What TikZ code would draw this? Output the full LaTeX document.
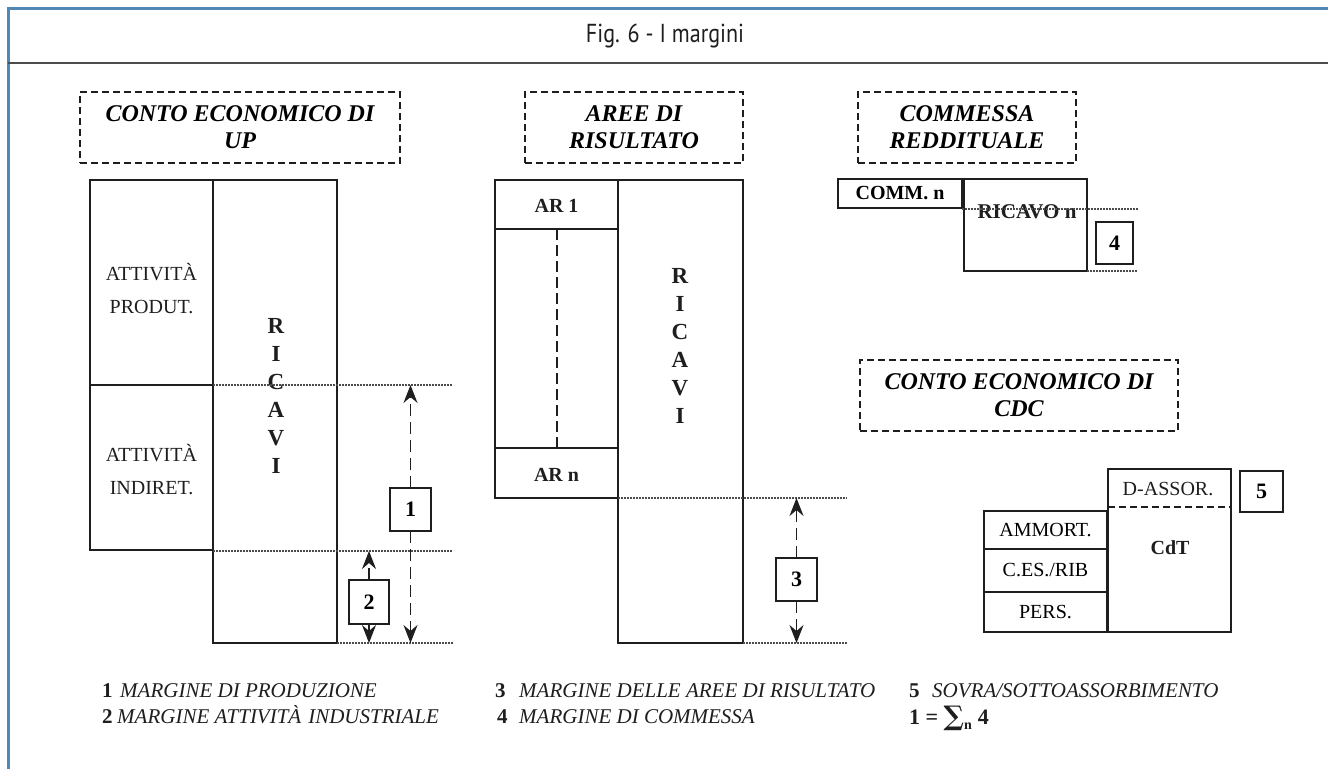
\documentclass[tikz,border=0pt]{standalone}
\usepackage{fontspec}
\setmainfont{Liberation Serif}
\newfontfamily\titlefont[FakeStretch=0.85]{PT Sans}
\newfontfamily\symfont{DejaVu Serif}
\usetikzlibrary{arrows.meta}
\definecolor{framecol}{RGB}{80,135,180}
\definecolor{ink}{RGB}{30,30,30}
\tikzset{
  box/.style={draw=ink, line width=1.4pt, inner sep=0pt, outer sep=0pt, rectangle},
  thick line/.style={draw=ink, line width=2.6pt},
  hdr/.style={draw=ink, line width=1.3pt, dash pattern=on 7pt off 4pt, inner sep=0pt, outer sep=0pt,
     minimum height=71pt, align=center, font=\bfseries\itshape\fontsize{24}{27}\selectfont},
  dots/.style={draw=ink!80, line width=1.2pt, dash pattern=on 1.5pt off 1.5pt},
  dimarrow/.style={draw=ink, line width=1.4pt, dash pattern=on 12pt off 6pt,
     -{Stealth[length=18pt,width=14pt,inset=6pt]}},
  numbox/.style={box, font=\bfseries\fontsize{22}{22}\selectfont},
  lbl/.style={font=\fontsize{20}{33}\selectfont, align=center, inner sep=0pt, text=ink},
  blbl/.style={font=\bfseries\fontsize{20}{20}\selectfont, inner sep=0pt, text=ink},
  vert/.style={font=\bfseries\fontsize{23}{28}\selectfont, align=center, inner sep=0pt, text=ink},
  leg/.style={font=\itshape\fontsize{21}{21}\selectfont, anchor=base west, inner sep=0pt, text=ink},
  legn/.style={font=\bfseries\fontsize{21}{21}\selectfont, anchor=base west, inner sep=0pt, text=ink},
}
\begin{document}
\begin{tikzpicture}[x=1pt,y=-1pt]
\useasboundingbox (0,0) rectangle (1328,769);
\fill[white] (0,0) rectangle (1328,769);
% frame
\draw[framecol, line width=3pt] (8,769) -- (8,8) -- (1328,8);
\draw[black!70, line width=2.2pt] (8,63) -- (1328,63);
\node[font=\titlefont\fontsize{26}{28}\selectfont, text=ink] (title) at (665,36) {Fig. 6 - I margini};

% headers
\node[hdr, minimum width=320pt] (h1) at (240,127.5) {CONTO ECONOMICO DI\\UP};
\node[hdr, minimum width=218pt] (h2) at (634,127.5) {AREE DI\\RISULTATO};
\node[hdr, minimum width=218pt] (h3) at (967,127.5) {COMMESSA\\REDDITUALE};
\node[hdr, minimum width=318pt] (h4) at (1019,395.5) {CONTO ECONOMICO DI\\CDC};

% ---------- left diagram ----------
\node[box, minimum width=123pt, minimum height=205pt] (ap) at (151.5,282.5) {};
\node[box, minimum width=123pt, minimum height=165pt] (ai) at (151.5,467.5) {};
\node[box, minimum width=124pt, minimum height=463pt] (ric1) at (275,411.5) {};
\node[lbl] (apt) at (151.5,289) {ATTIVITÀ\\PRODUT.};
\node[lbl] (ait) at (151.5,470) {ATTIVITÀ\\INDIRET.};
\node[vert] (ric1t) at (276,396) {R\\I\\C\\A\\V\\I};
\draw[thick line] (ric1.north west) -- (ric1.south west);
\draw[thick line] (ap.south west) -- (ap.south east);
\coordinate (d1a) at (213,385);  \coordinate (d1b) at (453,385);
\coordinate (d2a) at (213,551);  \coordinate (d2b) at (453,551);
\coordinate (d3b) at (453,643);
\draw[dots] (d1a) -- (d1b);
\draw[dots] (d2a) -- (d2b);
\draw[dots] (ric1.south east) -- (d3b);
\node[numbox, minimum width=41pt, minimum height=43pt] (b1) at (410.5,509.5) {1};
\node[numbox, minimum width=40pt, minimum height=44pt] (b2) at (369,602) {2};
\coordinate (a1t) at (410.5,385); \coordinate (a1b) at (410.5,643);
\coordinate (a2t) at (369,551);   \coordinate (a2b) at (369,643);
\draw[dimarrow] (b1.north) -- (a1t);
\draw[dimarrow] (b1.south) -- (a1b);
\draw[dimarrow] (b2.north) -- (a2t);
\draw[dimarrow] (b2.south) -- (a2b);

% ---------- middle diagram ----------
\node[box, minimum width=123pt, minimum height=318pt] (arall) at (556.5,339) {};
\node[box, minimum width=123pt, minimum height=49pt] (ar1) at (556.5,204.5) {};
\node[box, minimum width=123pt, minimum height=50pt] (arn) at (556.5,473) {};
\node[blbl] (ar1t) at (556.5,206) {AR 1};
\node[blbl] (arnt) at (556.5,475) {AR n};
\coordinate (dv1) at (557,229); \coordinate (dv2) at (557,448);
\draw[draw=ink, line width=1.3pt, dash pattern=on 11pt off 5pt] (dv1) -- (dv2);
\node[box, minimum width=125pt, minimum height=463pt] (ric2) at (680.5,411.5) {};
\node[vert] (ric2t) at (680,346) {R\\I\\C\\A\\V\\I};
\draw[thick line] (ric2.north west) -- (ric2.south west);
\coordinate (d4a) at (618,498); \coordinate (d4b) at (847,498);
\coordinate (d5b) at (847,643);
\draw[dots] (d4a) -- (d4b);
\draw[dots] (ric2.south east) -- (d5b);
\node[numbox, minimum width=41pt, minimum height=43pt] (b3) at (796.5,579.5) {3};
\coordinate (a3t) at (796.5,498); \coordinate (a3b) at (796.5,643);
\draw[dimarrow] (b3.north) -- (a3t);
\draw[dimarrow] (b3.south) -- (a3b);

% ---------- commessa ----------
\node[box, minimum width=124pt, minimum height=29pt, font=\bfseries\fontsize{20}{20}\selectfont] (comm) at (900,193.5) {COMM. n};
\node[box, minimum width=123pt, minimum height=92pt] (ricn) at (1025.5,225) {};
\node[blbl, font=\bfseries\fontsize{21}{21}\selectfont] (ricnt) at (1027,212) {RICAVO n};
\coordinate (d6a) at (962,209); \coordinate (d6b) at (1138,209);
\coordinate (d7b) at (1138,271);
\draw[dots] (d6a) -- (d6b);
\draw[dots] (ricn.south east) -- (d7b);
\node[numbox, minimum width=37pt, minimum height=42pt] (b4) at (1114.5,243) {4};

% ---------- CdC ----------
\node[box, minimum width=123pt, minimum height=163pt] (cdt) at (1169.5,550.5) {};
\coordinate (dd1) at (1108,507); \coordinate (dd2) at (1231,507);
\draw[draw=ink, line width=1.3pt, dash pattern=on 7pt off 4pt] (dd1) -- (dd2);
\node[lbl, font=\fontsize{20}{20}\selectfont] (dass) at (1168,489) {D-ASSOR.};
\node[blbl] (cdtt) at (1170,548) {CdT};
\node[box, minimum width=123pt, minimum height=38pt, font=\fontsize{20}{20}\selectfont] (amm) at (1045.5,530) {AMMORT.};
\node[box, minimum width=123pt, minimum height=43pt, font=\fontsize{20}{20}\selectfont] (ces) at (1045.5,570.5) {C.ES./RIB};
\node[box, minimum width=123pt, minimum height=40pt, font=\fontsize{20}{20}\selectfont] (pers) at (1045.5,612) {PERS.};
\node[numbox, minimum width=43pt, minimum height=41pt] (b5) at (1261.5,491.5) {5};

% ---------- legend ----------
\node[legn] (l1n) at (102,697) {1};
\node[leg] (l1) at (120,697) {MARGINE DI PRODUZIONE};
\node[legn] (l2n) at (102,723) {2};
\node[leg] (l2) at (117,723) {MARGINE ATTIVITÀ\hspace{7pt}INDUSTRIALE};
\node[legn] (l3n) at (495,697) {3};
\node[leg] (l3) at (519,697) {MARGINE DELLE AREE DI RISULTATO};
\node[legn] (l4n) at (497,723) {4};
\node[leg] (l4) at (519,723) {MARGINE DI COMMESSA};
\node[legn] (l5n) at (909,697) {5};
\node[leg] (l5) at (932,697) {SOVRA/SOTTOASSORBIMENTO};
\node[legn, font=\bfseries\fontsize{22}{22}\selectfont] (sum) at (909,724)
  {1 = {\symfont\bfseries\fontsize{27}{27}\selectfont\raisebox{-1pt}{∑}}\raisebox{-5pt}{\fontsize{14}{14}\selectfont n}\hspace{6pt}4};
\end{tikzpicture}
\end{document}
